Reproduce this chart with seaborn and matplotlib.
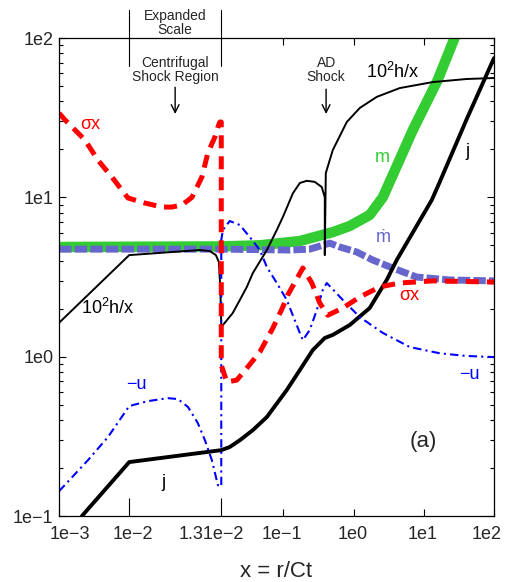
import numpy as np
import pandas as pd
import matplotlib
matplotlib.use('Agg')
import matplotlib.pyplot as plt
import matplotlib.transforms as mtransforms
from matplotlib.ticker import LogLocator, NullLocator, NullFormatter
import seaborn as sns

# ---------------- data ----------------
j_x = [2.12e-3, 0.01, 0.0131, 0.0173, 0.0241, 0.0369, 0.0584, 0.112, 0.172, 0.263, 0.390, 0.507,
       0.884, 1.70, 2.97, 4.12, 13.0, 16.9, 40.9, 100]
j_y = [0.1, 0.218, 0.259, 0.271, 0.299, 0.346, 0.418, 0.617, 0.824, 1.10, 1.31, 1.37,
       1.58, 2.02, 3.03, 4.04, 9.62, 12.5, 31.0, 74.8]

hx_x = [1e-3, 0.01, 0.01238, 0.012717, 0.012918, 0.01302, 0.01307, 0.0131, 0.01337, 0.0191, 0.0241,
        0.0303, 0.0369, 0.0584, 0.0809, 0.0986, 0.137, 0.172, 0.216, 0.281, 0.353, 0.390, 0.390,
        0.403, 0.507, 0.802, 1.23, 2.14, 4.55, 13.4, 40.9, 100]
hx_y = [1.63, 4.34, 4.67, 4.60, 4.34, 3.93, 2.62, 1.57, 1.55, 1.88, 2.27,
        2.74, 3.35, 4.67, 6.24, 7.52, 10.6, 12.3, 12.7, 12.5, 11.6, 10.0, 4.34,
        14.2, 19.8, 29.7, 36.4, 42.7, 48.5, 52.9, 55.3, 56.1]

m_x = [1e-3, 0.0131, 0.0464, 0.172, 0.507, 0.884, 1.70, 2.61, 3.62, 6.97, 15.8, 30.4]
m_y = [4.88, 4.92, 5.0, 5.32, 6.05, 6.61, 7.75, 10.0, 13.8, 26.4, 54.5, 112]

md_x = [1e-3, 0.0131, 0.124, 0.238, 0.459, 0.637, 1.11, 1.88, 3.62, 7.93, 23.4, 100]
md_y = [4.73, 4.73, 4.67, 4.73, 5.16, 4.88, 4.54, 4.04, 3.60, 3.16, 3.03, 2.99]

sx_x = [1e-3, 1.22e-3, 2.34e-3, 3.59e-3, 5.67e-3, 9.57e-3, 0.010528, 0.0111, 0.011437, 0.011775,
        0.012111, 0.012447, 0.012648, 0.012885, 0.012987, 0.013053, 0.0131, 0.0131, 0.01574, 0.0218,
        0.0303, 0.0464, 0.0710, 0.0986, 0.116, 0.190, 0.255, 0.331, 0.430, 0.704, 1.23, 2.36, 4.55, 13.4, 100]
sx_y = [33.8, 30.6, 22.9, 17.1, 13.4, 9.91, 9.21, 8.69, 8.69, 8.95,
        10.0, 13.4, 19.0, 23.9, 27.6, 29.7, 29.7, 0.885, 0.693, 0.713,
        0.848, 1.07, 1.51, 2.05, 2.44, 3.60, 2.90, 2.17, 1.82, 2.02, 2.37, 2.74, 2.90, 2.99, 2.94]

u_x = [1e-3, 2.58e-3, 4.98e-3, 0.01, 0.01063, 0.0113, 0.01164, 0.01198, 0.01231, 0.01255, 0.012784,
       0.012987, 0.0131, 0.0131, 0.0138, 0.0173, 0.0241, 0.0334, 0.0464, 0.0584, 0.0809, 0.112, 0.172,
       0.190, 0.238, 0.300, 0.365, 0.416, 0.704, 1.23, 2.61, 6.31, 16.9, 40.9, 100]
u_y = [0.143, 0.224, 0.313, 0.490, 0.526, 0.549, 0.542, 0.483, 0.383, 0.299, 0.224,
       0.156, 0.153, 5.40, 6.24, 7.10, 6.70, 5.63, 4.67, 3.65, 2.90, 2.27, 1.41,
       1.27, 1.47, 1.96, 2.62, 2.90, 2.27, 1.77, 1.41, 1.15, 1.05, 1.01, 0.994]

x_ticks = [1e-3, 1e-2, 1.31e-2, 1e-1, 1, 10, 100]
x_labels = ['1e\u22123', '1e\u22122', '1.31e\u22122', '1e\u22121', '1e0', '1e1', '1e2']
x_label_shift_px = [11, 3.5, -10, -1, -1, -1, -7]
y_ticks = [0.1, 1, 10, 100]
y_labels = ['1e\u22121', '1e0', '1e1', '1e2']

# ---------------- style ----------------
sns.set_style('ticks')
plt.rcParams['font.family'] = ['Liberation Sans', 'DejaVu Sans']
plt.rcParams['mathtext.fontset'] = 'custom'
plt.rcParams['mathtext.rm'] = 'Liberation Sans'
plt.rcParams['mathtext.it'] = 'Liberation Sans'

# piecewise axis: log | expanded linear [1e-2, 1.31e-2] | log
X1, X2, W = 0.01, 0.0131, 1.31


def fwd(x):
    x = np.asarray(x, dtype=float)
    with np.errstate(all='ignore'):
        lx = np.log10(np.clip(x, 1e-300, None))
        lin = 1 + (x - X1) / (X2 - X1) * W
        return np.where(x <= X1, lx + 3, np.where(x <= X2, lin, 1 + W + lx - np.log10(X2)))


def inv(u):
    u = np.asarray(u, dtype=float)
    with np.errstate(all='ignore'):
        return np.where(u <= 1, 10.0 ** (u - 3),
                        np.where(u <= 1 + W, X1 + (u - 1) / W * (X2 - X1), X2 * 10.0 ** (u - 1 - W)))


fig = plt.figure(figsize=(5.06, 5.82), dpi=100)
ax = fig.add_axes([0.1166, 0.1134, 0.8597, 0.8213])
ax.set_xscale('function', functions=(fwd, inv))
ax.set_yscale('log')


def draw(x, y, **kw):
    df = pd.DataFrame({'x': x, 'y': y})
    sns.lineplot(data=df, x='x', y='y', sort=False, estimator=None, ax=ax, **kw)


draw(m_x, m_y, color='#33cc33', linewidth=7.5, solid_capstyle='butt')
draw(md_x, md_y, color='#6666cc', linewidth=5, linestyle=(0, (1.8, 0.45)), dash_capstyle='butt')
draw(j_x, j_y, color='black', linewidth=2.8)
draw(hx_x, hx_y, color='black', linewidth=1.4)
draw(u_x, u_y, color='#0000ff', linewidth=1.5, linestyle=(0, (4, 2, 1, 2)))
draw(sx_x, sx_y, color='#ff0000', linewidth=3.6, linestyle=(0, (2.6, 1.6)), dash_capstyle='butt')

ax.set_xlim(1e-3, 100)
ax.set_ylim(0.1, 100)
ax.set_xticks(x_ticks, labels=x_labels)
ax.xaxis.set_minor_locator(NullLocator())
ax.set_yticks(y_ticks, labels=y_labels)
ax.yaxis.set_minor_locator(LogLocator(base=10, subs=np.arange(2, 10)))
ax.yaxis.set_minor_formatter(NullFormatter())
ax.tick_params(which='both', direction='in', top=True, right=True, labelsize=13, width=0.8, color='black')
ax.tick_params(which='major', length=5)
ax.tick_params(which='minor', length=3)
ax.tick_params(axis='x', pad=7)
ax.tick_params(axis='y', pad=4)
for sp in ax.spines.values():
    sp.set_linewidth(0.9)
    sp.set_color('black')

ticks = ax.xaxis.get_major_ticks()
for i in (1, 2):
    ticks[i].tick1line.set_markersize(13)
    ticks[i].tick2line.set_markersize(0)

for lbl, dx in zip(ax.get_xticklabels(), x_label_shift_px):
    lbl.set_transform(lbl.get_transform() + mtransforms.ScaledTranslation(dx / 100.0, 0, fig.dpi_scale_trans))

ax.set_xlabel('x = r/Ct', fontsize=16, labelpad=13)
ax.set_ylabel('')

# expanded-scale brackets on top
xt = ax.get_xaxis_transform()
for xv in (X1, X2):
    ax.plot([xv, xv], [0.9414, 1.0586], transform=xt, color='black', lw=0.8, clip_on=False)

ta = ax.transAxes
ax.text(0.267, 1.031, 'Expanded\nScale', transform=ta, ha='center', va='center', fontsize=10, linespacing=1.0)
ax.text(0.267, 0.933, 'Centrifugal\nShock Region', transform=ta, ha='center', va='center', fontsize=10, linespacing=1.0)
ax.text(0.614, 0.933, 'AD\nShock', transform=ta, ha='center', va='center', fontsize=10, linespacing=1.0)
arr = dict(arrowstyle='->', lw=1.0, color='black', mutation_scale=14, shrinkA=0, shrinkB=0)
ax.annotate('', xy=(0.267, 0.841), xytext=(0.267, 0.897), xycoords=ta, textcoords=ta, arrowprops=arr)
ax.annotate('', xy=(0.614, 0.841), xytext=(0.614, 0.893), xycoords=ta, textcoords=ta, arrowprops=arr)

# curve labels
lab = dict(transform=ta, ha='center', va='center', fontsize=13)
ax.text(0.0713, 0.818, '\u03c3x', color='#ff0000', **lab)
ax.text(0.805, 0.462, '\u03c3x', color='#ff0000', **lab)
ax.text(0.768, 0.929, '10$^2$h/x', color='black', **lab)
ax.text(0.113, 0.435, '10$^2$h/x', color='black', **lab)
ax.text(0.743, 0.749, 'm', color='#33cc33', **lab)
ax.text(0.745, 0.582, '\u1e41', color='#6666cc', **lab)
ax.text(0.940, 0.762, 'j', color='black', **lab)
ax.text(0.239, 0.071, 'j', color='black', **lab)
ax.text(0.943, 0.297, '\u2212u', color='#0000ff', **lab)
ax.text(0.179, 0.276, '\u2212u', color='#0000ff', **lab)
ax.text(0.837, 0.155, '(a)', transform=ta, ha='center', va='center', fontsize=16)

fig.savefig('out.png', dpi=100)
